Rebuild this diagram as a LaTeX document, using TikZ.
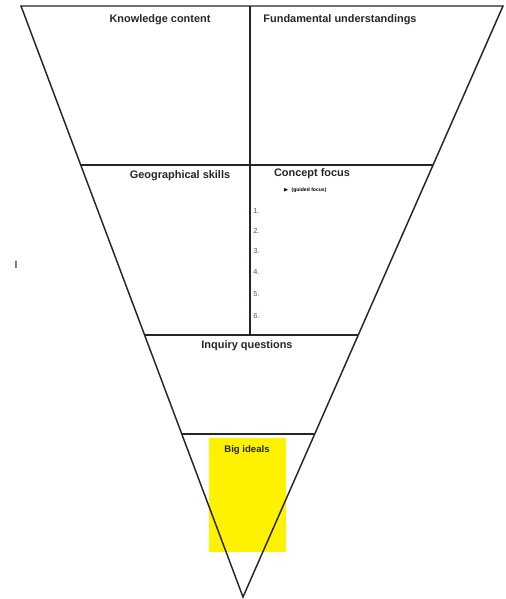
\documentclass[tikz,border=0pt]{standalone}
\usepackage{amssymb}
\usepackage{fontspec}
\setmainfont{Liberation Sans}
\usetikzlibrary{calc}

\begin{document}
\begin{tikzpicture}[
    x=0.75pt, y=-0.75pt,
    frame/.style={line width=1.1pt, draw=black!85, line join=miter},
    divider/.style={line width=1.1pt, draw=black!85},
    heading/.style={font=\fontsize{8.2}{9}\selectfont\bfseries, text=black!85, inner sep=0pt},
    numlabel/.style={font=\fontsize{5.5}{6}\selectfont, text=blue!30!black!70, inner sep=0pt, anchor=west},
    tinylabel/.style={font=\fontsize{3.8}{4}\selectfont\bfseries, inner sep=0pt}
]
    \useasboundingbox (0,0) rectangle (506,599);

    % --- Big ideals box (under the funnel) ---
    \fill[yellow] (209,438) rectangle (286,552);

    % --- Funnel outline ---
    \coordinate (tl) at (21,6);
    \coordinate (tr) at (503,6);
    \coordinate (tip) at (243,597);
    \draw[frame] (tl) -- (tr) -- (tip) -- cycle;

    % Bands
    \foreach \y/\n in {165/a, 335/b, 434/c} {
        \coordinate (l\n) at ($(tl)!{(\y-6)/591}!(tip)$);
        \coordinate (r\n) at ($(tr)!{(\y-6)/591}!(tip)$);
        \draw[divider] (l\n) -- (r\n);
    }
    \coordinate (mtop) at (250,6);
    \coordinate (mbot) at (250,335);
    \draw[divider] (mtop) -- (mbot);

    % --- Headings ---
    \node[heading] (know) at (160,20) {Knowledge content};
    \node[heading] (fund) at (340,20) {Fundamental understandings};
    \node[heading] (geo) at (180,176) {Geographical skills};
    \node[heading] (conc) at (312,174) {Concept focus};
    \node[heading] (inq) at (247,346) {Inquiry questions};
    \node[heading, font=\fontsize{7.2}{8}\selectfont\bfseries] (big) at (247,450) {Big ideals};

    % Concept focus list
    \node[tinylabel, anchor=west] (hint) at (283,190) {$\blacktriangleright$\ \ (guided focus)};
    \foreach \i/\y in {1/211, 2/231, 3/251, 4/272, 5/294, 6/316} {
        \node[numlabel] (num\i) at (253,\y) {\i.};
    }

    % stray mark
    \node[font=\fontsize{8}{9}\selectfont, inner sep=0pt] (mark) at (16,265) {I};

\end{tikzpicture}
\end{document}
